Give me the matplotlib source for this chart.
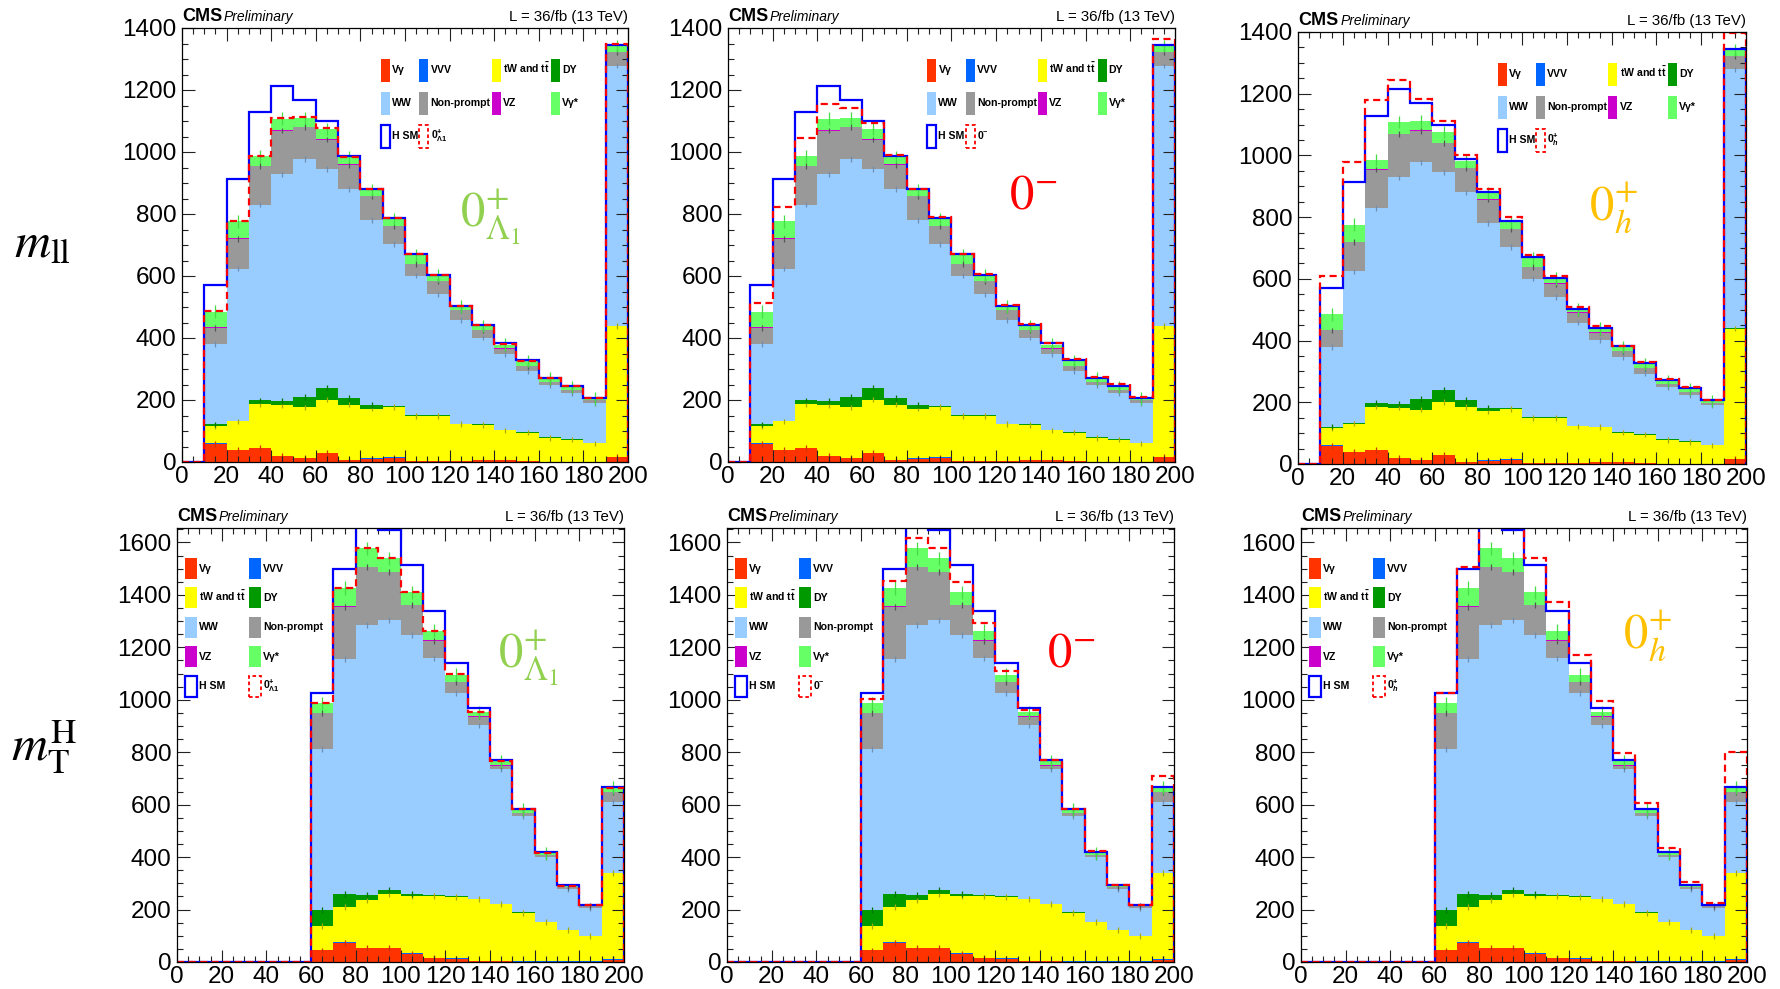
import numpy as np
import matplotlib.pyplot as plt
from matplotlib.patches import Patch
from matplotlib.ticker import MultipleLocator

plt.rcParams['font.family'] = ['Liberation Sans', 'DejaVu Sans']
plt.rcParams['mathtext.fontset'] = 'custom'
plt.rcParams['mathtext.rm'] = 'Liberation Sans:bold'
plt.rcParams['mathtext.bf'] = 'Liberation Sans:bold'
plt.rcParams['mathtext.it'] = 'Liberation Sans:italic:bold'

# 10 GeV bins, last bin holds the overflow
edges = np.arange(0, 201, 10)

# ---- m_ll : expected events per process (stack order, bottom first)
mll_vgamma = [0, 59, 38, 45, 19, 13, 29, 5, 11, 14, 2, 2, 3, 5, 8, 3, 1, 1, 1, 16]
mll_vvv = [0, 1, 1, 1, 1, 1, 1, 1, 1, 1, 1, 1, 1, 0, 0, 0, 0, 0, 0, 0]
mll_top = [0, 56, 92, 140, 163, 162, 171, 179, 160, 163, 146, 146, 118, 115, 94, 92, 77, 71, 59, 423]
mll_dy = [0, 5, 2, 13, 13, 34, 39, 22, 11, 2, 2, 2, 2, 1, 1, 1, 2, 2, 1, 1]
mll_ww = [0, 259, 491, 631, 733, 768, 706, 673, 598, 523, 450, 390, 334, 280, 244, 197, 168, 149, 130, 839]
mll_nonprompt = [0, 53, 96, 124, 140, 102, 94, 79, 76, 57, 37, 43, 32, 25, 19, 17, 10, 9, 8, 43]
mll_vz = [0, 1, 1, 1, 1, 1, 1, 1, 1, 1, 1, 1, 1, 1, 1, 1, 0, 0, 0, 1]
mll_vgstar = [0, 51, 55, 31, 38, 29, 34, 23, 20, 23, 29, 16, 10, 12, 12, 14, 11, 10, 6, 19]

# background + signal for each hypothesis
mll_hsm = [0, 571, 914, 1129, 1214, 1169, 1099, 988, 880, 787, 670, 603, 503, 441, 383, 328, 272, 246, 208, 1345]
mll_l1 = [0, 487, 778, 988, 1110, 1112, 1077, 985, 880, 786, 670, 603, 503, 441, 381, 327, 271, 244, 207, 1347]
mll_0m = [0, 514, 824, 1045, 1155, 1141, 1092, 990, 881, 789, 671, 607, 505, 446, 385, 331, 275, 251, 210, 1365]
mll_0h = [0, 610, 978, 1180, 1243, 1182, 1110, 1002, 892, 799, 678, 608, 508, 448, 383, 330, 275, 248, 208, 1398]

# ---- m_T^H
mth_vgamma = [0, 0, 0, 0, 0, 0, 44, 74, 53, 53, 32, 15, 13, 3, 2, 1, 1, 1, 1, 6]
mth_vvv = [0, 0, 0, 0, 0, 0, 1, 1, 1, 1, 1, 1, 1, 1, 1, 1, 1, 1, 1, 7]
mth_top = [0, 0, 0, 0, 0, 0, 91, 135, 183, 204, 218, 235, 234, 235, 217, 186, 150, 119, 96, 327]
mth_dy = [0, 0, 0, 0, 0, 0, 61, 50, 20, 15, 9, 3, 3, 2, 1, 2, 1, 1, 1, 1]
mth_ww = [0, 0, 0, 0, 0, 0, 616, 896, 1029, 1031, 987, 904, 774, 661, 516, 365, 247, 157, 108, 271]
mth_nonprompt = [0, 0, 0, 0, 0, 0, 136, 199, 219, 182, 114, 67, 42, 34, 12, 14, 9, 7, 5, 36]
mth_vz = [0, 0, 0, 0, 0, 0, 1, 1, 1, 1, 1, 1, 1, 1, 1, 0, 0, 0, 0, 1]
mth_vgstar = [0, 0, 0, 0, 0, 0, 37, 70, 72, 52, 48, 37, 28, 15, 16, 13, 6, 4, 4, 15]

mth_hsm = [0, 0, 0, 0, 0, 0, 1025, 1498, 1700, 1647, 1514, 1337, 1139, 969, 772, 584, 419, 292, 218, 667]
mth_l1 = [0, 0, 0, 0, 0, 0, 988, 1427, 1579, 1540, 1411, 1264, 1097, 953, 766, 582, 415, 290, 216, 664]
mth_0m = [0, 0, 0, 0, 0, 0, 1003, 1454, 1615, 1577, 1448, 1291, 1111, 961, 772, 584, 422, 292, 216, 711]
mth_0h = [0, 0, 0, 0, 0, 0, 1025, 1505, 1720, 1700, 1539, 1371, 1172, 997, 796, 606, 434, 305, 226, 800]

proc_names = ['V\u03b3', 'VVV', r'tW and t$\bar{\rm t}$', 'DY', 'WW', 'Non-prompt', 'VZ', 'V\u03b3*']
proc_colors = ['#ff3300', '#0066ff', '#ffff00', '#009900', '#99ccff', '#999999', '#cc00cc', '#66ff66']
tick_colors = ['#cc3300', '#0044cc', '#aaaa00', '#007700', '#6f8fb0', '#555555', '#990099', '#44dd44']

hyp_legend = [r'$0^{+}_{\Lambda1}$', r'$0^{-}$', r'$0^{+}_{h}$']
hyp_text = [r'$0^{+}_{\Lambda_{1}}$', r'$0^{-}$', r'$0^{+}_{h}$']
hyp_color = ['#92d050', '#ff0000', '#ffc000']

W, H = 1781, 989
fig = plt.figure(figsize=(W / 100, H / 100), dpi=100)


def px_axes(x0, y0, x1, y1):
    return fig.add_axes([x0 / W, 1 - y1 / H, (x1 - x0) / W, (y1 - y0) / H])


def draw_panel(ax, comps, hsm, alt, k, ymax, err, leg_cols, leg_pos, txt_pos):
    bottom = np.zeros(len(edges) - 1)
    for vals, col in zip(comps, proc_colors):
        top = bottom + np.asarray(vals, float)
        ax.stairs(top, edges, baseline=bottom, fill=True, color=col, lw=0)
        bottom = top
    # small uncertainty ticks at the top of each layer
    centers = 0.5 * (edges[1:] + edges[:-1])
    bottom = np.zeros(len(centers))
    for i, vals in enumerate(comps):
        top = bottom + np.asarray(vals, float)
        m = np.asarray(vals) > 4
        e = err if i == len(comps) - 1 else err * 0.45
        ax.errorbar(centers[m], top[m], yerr=e, fmt='none', ecolor=tick_colors[i],
                    elinewidth=0.9, capsize=0, zorder=1.2)
        bottom = top

    ax.stairs(hsm, edges, baseline=0, color='#0000ff', lw=1.6, zorder=2)
    ax.stairs(alt, edges, baseline=0, color='#ff0000', lw=1.6, ls=(0, (3.2, 2)), zorder=2.1)

    ax.set_xlim(0, 200)
    ax.set_ylim(0, ymax)
    ax.xaxis.set_major_locator(MultipleLocator(20))
    ax.xaxis.set_minor_locator(MultipleLocator(5))
    ax.yaxis.set_major_locator(MultipleLocator(200))
    ax.yaxis.set_minor_locator(MultipleLocator(50))
    ax.tick_params(which='both', direction='in', top=True, right=True, width=0.8, color='#222222')
    ax.tick_params(which='major', length=9, labelsize=17.5)
    ax.tick_params(axis='x', which='major', pad=3)
    ax.tick_params(axis='y', which='major', pad=4)
    ax.tick_params(which='minor', length=4.5)
    for s in ax.spines.values():
        s.set_linewidth(0.9)

    ax.text(0, 1.016, 'CMS', transform=ax.transAxes, fontsize=13, weight='bold', va='baseline')
    ax.text(0.094, 1.016, 'Preliminary', transform=ax.transAxes, fontsize=10, style='italic',
            va='baseline')
    ax.text(1.0, 1.016, 'L = 36/fb (13 TeV)', transform=ax.transAxes, fontsize=10.8,
            ha='right', va='baseline')

    handles = [Patch(facecolor=c, edgecolor='none', label=n) for n, c in zip(proc_names, proc_colors)]
    handles.append(Patch(facecolor='none', edgecolor='#0000ff', lw=1.6, label='H SM'))
    handles.append(Patch(facecolor='none', edgecolor='#ff0000', lw=1.3, ls=(0, (2, 1.5)),
                         label=hyp_legend[k]))
    # fill the legend row by row
    if leg_cols == 4:
        order = [0, 4, 8, 1, 5, 9, 2, 6, 3, 7]
        hl, hh, ls, cs = 0.85, 2.97, 0.95, 0.1
    else:
        order = [0, 2, 4, 6, 8, 1, 3, 5, 7, 9]
        hl, hh, ls, cs = 1.14, 2.68, 0.8, 0.25
    ax.legend(handles=[handles[i] for i in order], ncol=leg_cols, loc='upper left',
              bbox_to_anchor=leg_pos, frameon=False, borderpad=0, borderaxespad=0,
              handlelength=hl, handleheight=hh, labelspacing=ls, columnspacing=cs,
              handletextpad=0.2, prop={'size': 7.6, 'weight': 'bold'})

    ax.text(txt_pos[0], txt_pos[1], hyp_text[k], transform=ax.transAxes, fontsize=35,
            color=hyp_color[k], math_fontfamily='stix', ha='left', va='baseline')


mll_comps = [mll_vgamma, mll_vvv, mll_top, mll_dy, mll_ww, mll_nonprompt, mll_vz, mll_vgstar]
mth_comps = [mth_vgamma, mth_vvv, mth_top, mth_dy, mth_ww, mth_nonprompt, mth_vz, mth_vgstar]

top_boxes = [(182, 28, 628, 462), (728, 28, 1175, 462), (1298, 32, 1746, 464)]
bot_boxes = [(177, 528, 624, 962), (727, 528, 1174, 962), (1301, 528, 1747, 962)]
top_txt = [(0.623, 0.541), (0.629, 0.585), (0.650, 0.565)]
bot_txt = [(0.718, 0.677), (0.716, 0.680), (0.722, 0.723)]

for k, alt in enumerate([mll_l1, mll_0m, mll_0h]):
    ax = px_axes(*top_boxes[k])
    draw_panel(ax, mll_comps, mll_hsm, alt, k, 1400, 20, 4, (0.446, 0.929), top_txt[k])

for k, alt in enumerate([mth_l1, mth_0m, mth_0h]):
    ax = px_axes(*bot_boxes[k])
    draw_panel(ax, mth_comps, mth_hsm, alt, k, 1655, 25, 2, (0.018, 0.931), bot_txt[k])

fig.text(14 / W, 1 - 257 / H, r'$m_{\mathrm{ll}}$', fontsize=36, math_fontfamily='stix',
         va='baseline')
fig.text(11 / W, 1 - 761 / H, r'$m_{\mathrm{T}}^{\mathrm{H}}$', fontsize=36,
         math_fontfamily='stix', va='baseline')

fig.savefig('out.png', dpi=100)
